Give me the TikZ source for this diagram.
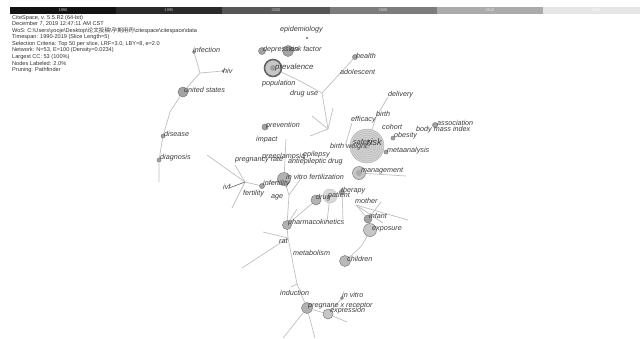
\documentclass[tikz,border=0pt]{standalone}
\usepackage{fontspec}
\setmainfont{Liberation Sans}
\newfontfamily\cjk{Noto Sans CJK SC}
\usetikzlibrary{backgrounds}
\definecolor{edgec}{HTML}{C0C0C0}
\definecolor{labc}{HTML}{3E3E3E}
\definecolor{nodef}{HTML}{A3A3A3}
\definecolor{noded}{HTML}{7C7C7C}
\definecolor{hdrc}{HTML}{333333}
\definecolor{segA}{HTML}{121212}
\definecolor{segB}{HTML}{2A2A2A}
\definecolor{segC}{HTML}{565656}
\definecolor{segD}{HTML}{7C7C7C}
\definecolor{segE}{HTML}{ABABAB}
\definecolor{segF}{HTML}{E6E6E6}
\begin{document}
\begin{tikzpicture}[x=1pt,y=-1pt,
  kw/.style={circle,inner sep=0pt,minimum size=#1,fill=nodef,draw=noded,line width=0.5pt},
  lab/.style={anchor=west,inner sep=0pt,font=\fontsize{7.2}{8}\selectfont\itshape,text=labc},
  edge/.style={draw=edgec,line width=0.7pt},
  dedge/.style={draw=black!55,line width=0.7pt},
  hdr/.style={anchor=west,inner sep=0pt,font=\fontsize{5.6}{6.5}\selectfont,text=hdrc},
  yr/.style={inner sep=0pt,font=\fontsize{4}{5}\selectfont}]
\useasboundingbox (0,0) rectangle (640,338);
% timeline
\fill[segA] (10,6.5) rectangle (116,13.5);
\fill[segB] (116,6.5) rectangle (222,13.5);
\fill[segC] (222,6.5) rectangle (330,13.5);
\fill[segD] (330,6.5) rectangle (437,13.5);
\fill[segE] (437,6.5) rectangle (543,13.5);
\fill[segF] (543,6.5) rectangle (640,13.5);
\node[yr,text=black!25] (y1990) at (63,10) {1990};
\node[yr,text=black!30] (y1995) at (169,10) {1995};
\node[yr,text=black!20] (y2000) at (276,10) {2000};
\node[yr,text=black!15] (y2005) at (383,10) {2005};
\node[yr,text=black!10] (y2010) at (490,10) {2010};
\node[yr,text=white] (y2015) at (596,10) {2015};
% header
\node[hdr] (h1) at (12,17.6) {CiteSpace, v. 5.5.R2 (64-bit)};
\node[hdr] (h2) at (12,24.1) {December 7, 2019 12:47:11 AM CST};
\node[hdr] (h3) at (12,30.6) {WoS: C:\textbackslash Users\textbackslash yooje\textbackslash Desktop\textbackslash{\cjk 论文投稿}\textbackslash{\cjk 孕期用药}\textbackslash citespace\textbackslash citespace\textbackslash data};
\node[hdr] (h4) at (12,37.1) {Timespan: 1990-2019 (Slice Length=5)};
\node[hdr] (h5) at (12,43.6) {Selection Criteria: Top 50 per slice, LRF=3.0, LBY=8, e=2.0};
\node[hdr] (h6) at (12,50.1) {Network: N=53, E=100 (Density=0.0234)};
\node[hdr] (h7) at (12,56.6) {Largest CC: 53 (100\%)};
\node[hdr] (h8) at (12,63.1) {Nodes Labeled: 2.0\%};
\node[hdr] (h9) at (12,69.6) {Pruning: Pathfinder};
% keyword nodes
\node[kw=1.5pt,fill=noded] (epi) at (307,38) {};
\node[kw=7pt] (dep) at (262,51) {};
\node[kw=11pt] (riskf) at (288,51) {};
\node[kw=17pt,draw=black!60,line width=1.6pt,fill=gray!45] (prev) at (273,68) {};
\fill[gray!75] (prev.center) circle[radius=3pt];
\node[kw=5pt] (health) at (355,57) {};
\node[kw=3pt] (inf) at (194,52) {};
\node[kw=2pt] (hiv) at (223,71) {};
\node[kw=10pt] (us) at (183,92) {};
\node[kw=4pt] (dis) at (163,136) {};
\node[kw=4pt] (diag) at (159,160) {};
\node[kw=6pt] (prevn) at (265,127) {};
\node[kw=13pt,fill=gray!60] (ivfert) at (284,179) {};
\node[kw=5pt] (infert) at (262,186) {};
\node[kw=2pt] (epil) at (304,158) {};
\node[kw=10pt,fill=gray!60] (drug) at (316,200) {};
\node[kw=14pt,fill=gray!30,draw=gray!45] (patient) at (330,196) {};
\node[kw=5pt] (therapy) at (342,192) {};
\node[kw=8pt] (infant) at (368,219) {};
\node[kw=13pt,fill=gray!45] (exposure) at (370,230) {};
\node[kw=9pt,fill=gray!60] (pharma) at (287,225) {};
\node[kw=11pt,fill=gray!55] (children) at (345,261) {};
\node[kw=3pt] (invitro) at (342,298) {};
\node[kw=11pt,fill=gray!60] (pxr) at (307,308) {};
\node[kw=10pt,fill=gray!45] (expr) at (328,314) {};
\node[kw=34pt,fill=gray!35,draw=gray!60] (risk) at (367,146) {};
\foreach \r in {3,5,...,15} \draw[gray!60,line width=0.3pt] (risk.center) circle[radius=\r pt];
\fill[gray!55] (risk.center) circle[radius=3pt];
\node[kw=13pt,fill=gray!45] (manag) at (359,173) {};
\fill[gray!65] (manag.center) circle[radius=3pt];
\node[kw=4pt] (obes) at (393,138) {};
\node[kw=5pt] (assoc) at (435,125) {};
\node[kw=4pt] (meta) at (386,152) {};
% labels
\node[lab] (l-epi) at (280,30) {epidemiology};
\node[lab] (l-dep) at (263,50) {depression};
\node[lab] (l-riskf) at (290,49) {risk factor};
\node[lab,font=\fontsize{7.8}{9}\selectfont\itshape] (l-prev) at (275,67) {prevalence};
\node[lab] (l-pop) at (262,84) {population};
\node[lab] (l-druguse) at (290,94) {drug use};
\node[lab] (l-health) at (356,56) {health};
\node[lab] (l-adol) at (340,72) {adolescent};
\node[lab] (l-inf) at (193,50) {infection};
\node[lab] (l-hiv) at (223,71) {hiv};
\node[lab] (l-us) at (184,90) {united states};
\node[lab] (l-dis) at (164,134) {disease};
\node[lab] (l-diag) at (160,158) {diagnosis};
\node[lab] (l-prevn) at (266,126) {prevention};
\node[lab] (l-impact) at (256,140) {impact};
\node[lab] (l-pregr) at (235,160) {pregnancy rate};
\node[lab] (l-preecl) at (262,157) {preeclampsia};
\node[lab] (l-epil) at (303,155) {epilepsy};
\node[lab] (l-aed) at (288,162) {antiepileptic drug};
\node[lab] (l-ivfert) at (286,177) {in vitro fertilization};
\node[lab] (l-infert) at (263,184) {infertility};
\node[lab] (l-ivf) at (223,187) {ivf};
\node[lab] (l-fert) at (243,194) {fertility};
\node[lab] (l-age) at (271,197) {age};
\node[lab] (l-drug) at (316,198) {drug};
\node[lab] (l-patient) at (328,196) {patient};
\node[lab] (l-therapy) at (341,191) {therapy};
\node[lab] (l-mother) at (355,201) {mother};
\node[lab] (l-infant) at (369,216) {infant};
\node[lab] (l-exposure) at (372,229) {exposure};
\node[lab] (l-pharma) at (288,223) {pharmacokinetics};
\node[lab] (l-rat) at (279,241) {rat};
\node[lab] (l-metab) at (293,253) {metabolism};
\node[lab] (l-children) at (347,259) {children};
\node[lab] (l-induct) at (280,293) {induction};
\node[lab] (l-invitro) at (342,295) {in vitro};
\node[lab] (l-pxr) at (308,306) {pregnane x receptor};
\node[lab] (l-expr) at (330,311) {expression};
\node[lab,font=\fontsize{9.5}{11}\selectfont\itshape] (l-risk) at (367,142) {risk};
\node[lab] (l-safety) at (353,143) {safety};
\node[lab] (l-bw) at (330,147) {birth weight};
\node[lab] (l-eff) at (351,120) {efficacy};
\node[lab] (l-birth) at (376,114) {birth};
\node[lab] (l-deliv) at (388,95) {delivery};
\node[lab] (l-cohort) at (382,127) {cohort};
\node[lab] (l-obes) at (394,136) {obesity};
\node[lab] (l-bmi) at (416,130) {body mass index};
\node[lab] (l-assoc) at (437,123) {association};
\node[lab] (l-meta) at (387,151) {metaanalysis};
\node[lab] (l-manag) at (361,171) {management};
% junctions
\coordinate (jInf) at (200,73);
\coordinate (jUs) at (170,112);
\coordinate (eDiag) at (159,182);
\coordinate (jP) at (300,81);
\coordinate (jA) at (322,93);
\coordinate (jB) at (328,129);
\coordinate (f1) at (312,116);
\coordinate (f2) at (333,108);
\coordinate (f3) at (310,136);
\coordinate (jImp) at (286,139);
\coordinate (jIvf) at (245,182);
\coordinate (e1) at (207,155);
\coordinate (e2) at (235,165);
\coordinate (e3) at (232,208);
\coordinate (cIvf) at (229,188);
\coordinate (jV) at (289,195);
\coordinate (e4) at (302,177);
\coordinate (e9) at (297,209);
\coordinate (jRat) at (288,238);
\coordinate (e7) at (263,232);
\coordinate (e8) at (242,268);
\coordinate (jInd) at (297,284);
\coordinate (e10) at (291,287);
\coordinate (e5) at (327,222);
\coordinate (e6) at (343,219);
\coordinate (e11) at (283,338);
\coordinate (e12) at (315,338);
\coordinate (e13) at (347,322);
\coordinate (cM) at (356,205);
\coordinate (e14) at (383,223);
\coordinate (e15) at (408,220);
\coordinate (e16) at (381,202);
\coordinate (e17) at (406,176);
\coordinate (cEff) at (352,123);
\coordinate (cBw) at (345,146);
\coordinate (cBirth) at (376,117);
\coordinate (cDel) at (388,97);
% edges
\begin{scope}[on background layer]
\fill[white] (0,0) rectangle (640,338);
\draw[edge] (inf) -- (jInf) -- (hiv);
\draw[edge] (jInf) -- (us);
\draw[edge] (us) -- (jUs) -- (dis) -- (diag) -- (eDiag);
\draw[edge] (prev) -- (jP) -- (jA) -- (health);
\draw[edge] (jA) -- (jB);
\draw[edge] (jB) -- (f1);
\draw[edge] (jB) -- (f2);
\draw[edge] (jB) -- (f3);
\draw[edge] (jImp) -- (ivfert);
\draw[edge] (jIvf) -- (e1);
\draw[edge] (jIvf) -- (e2);
\draw[edge] (jIvf) -- (e3);
\draw[dedge] (jIvf) -- (cIvf);
\draw[edge] (jIvf) -- (infert) -- (ivfert);
\draw[edge] (ivfert) -- (jV) -- (pharma);
\draw[edge] (jV) -- (e4);
\draw[edge] (pharma) -- (drug);
\draw[edge] (pharma) -- (e9);
\draw[edge] (pharma) -- (jRat);
\draw[edge] (jRat) -- (e7);
\draw[edge] (jRat) -- (e8);
\draw[edge] (jRat) -- (jInd) -- (pxr);
\draw[edge] (jInd) -- (e10);
\draw[edge] (patient) -- (e5);
\draw[edge] (therapy) -- (e6);
\draw[edge] (pxr) -- (e11);
\draw[edge] (pxr) -- (e12);
\draw[edge] (pxr) -- (expr) -- (e13);
\draw[edge] (invitro) -- (expr);
\draw[edge] (exposure) .. controls (362,246) .. (children);
\draw[edge] (cM) -- (infant);
\draw[edge] (cM) -- (e14);
\draw[edge] (cM) -- (e15);
\draw[edge] (e16) -- (infant);
\draw[edge] (infant) -- (exposure);
\draw[edge] (manag) -- (e17);
\draw[edge] (cEff) -- (cBw);
\draw[edge] (cBirth) -- (cDel);
\draw[edge] (cBirth) -- (risk);
\end{scope}
\end{tikzpicture}
\end{document}
